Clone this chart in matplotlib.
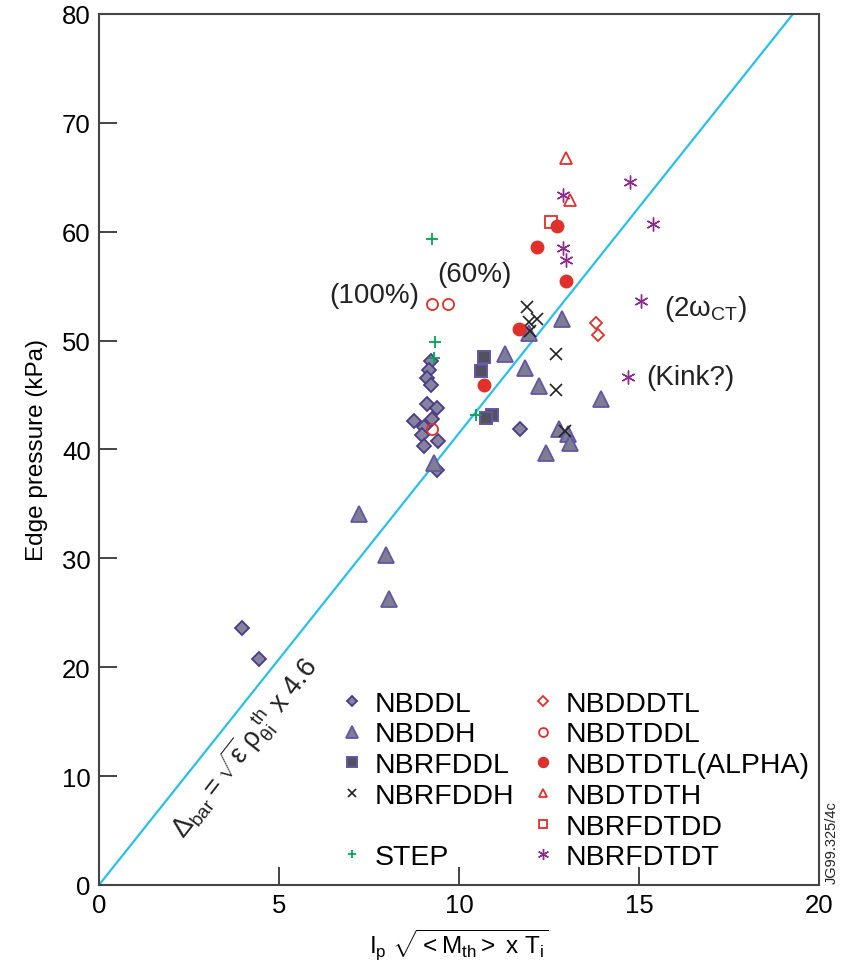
import matplotlib
matplotlib.use("Agg")
import matplotlib.pyplot as plt

plt.rcParams['font.family'] = ['Liberation Sans', 'DejaVu Sans']
plt.rcParams['mathtext.fontset'] = 'custom'
plt.rcParams['mathtext.rm'] = 'Liberation Sans'
plt.rcParams['mathtext.it'] = 'Liberation Sans'
plt.rcParams['mathtext.bf'] = 'Liberation Sans:bold'

# Dados (x, y)
nbddl_x = [3.97, 4.44, 9.21, 9.17, 9.11, 9.21, 9.11, 9.40, 8.76, 9.26, 9.03, 8.98, 9.43, 9.04, 9.39, 11.69]
nbddl_y = [23.6, 20.8, 48.1, 47.3, 46.6, 45.9, 44.2, 43.8, 42.6, 42.8, 42.1, 41.3, 40.8, 40.3, 38.1, 41.9]

nbddh_x = [7.22, 7.98, 8.06, 9.31, 11.28, 12.86, 11.82, 12.22, 13.94, 12.78, 13.03, 13.08, 12.41, 11.94]
nbddh_y = [34.1, 30.3, 26.3, 38.8, 48.8, 52.0, 47.5, 45.8, 44.6, 41.9, 41.4, 40.6, 39.7, 50.7]

nbrfddl_x = [10.69, 10.60, 10.93, 10.74]
nbrfddl_y = [48.5, 47.2, 43.2, 42.9]

nbrfddh_x = [11.90, 11.94, 12.18, 11.96, 12.69, 12.69, 12.94]
nbrfddh_y = [53.1, 51.7, 52.0, 50.9, 48.8, 45.5, 41.7]

step_x = [9.24, 9.34, 9.31, 10.48]
step_y = [59.3, 49.9, 48.4, 43.2]

nbdddtl_x = [13.80, 13.85]
nbdddtl_y = [51.6, 50.5]

nbdtddl_x = [9.24, 9.69, 9.25]
nbdtddl_y = [53.4, 53.4, 41.9]

nbdtdtl_x = [12.71, 12.18, 12.98, 11.67, 10.69]
nbdtdtl_y = [60.5, 58.6, 55.5, 51.1, 45.9]

nbdtdth_x = [12.98, 13.07]
nbdtdth_y = [66.8, 62.9]

nbrfdtdd_x = [12.56]
nbrfdtdd_y = [60.9]

nbrfdtdt_x = [12.90, 12.90, 12.98, 14.75, 15.38, 15.06, 14.70]
nbrfdtdt_y = [63.4, 58.5, 57.4, 64.6, 60.7, 53.6, 46.7]

# reta Delta_bar
slope = 4.15
line_x = [0, 20]

purple = '#4b3a8c'
purple2 = '#6555a5'
red = '#e0302a'

fig = plt.figure(figsize=(8.42, 9.78), dpi=100)
ax = fig.add_axes([0.1176, 0.0941, 0.8551, 0.8906])

ax.plot(line_x, [slope * v for v in line_x], color='#2bbfee', lw=1.6, zorder=1)

ax.plot(nbddl_x, nbddl_y, 'D', ms=7, mfc='#84849a', mec=purple, mew=1.3, ls='none', label='NBDDL')
ax.plot(nbddh_x, nbddh_y, '^', ms=11, mfc='#7e7e92', mec=purple2, mew=1.3, ls='none', label='NBDDH')
ax.plot(nbrfddl_x, nbrfddl_y, 's', ms=9, mfc='#52525c', mec=purple2, mew=1.4, ls='none', label='NBRFDDL')
ax.plot(nbrfddh_x, nbrfddh_y, 'x', ms=8, color='#222222', mew=1.2, ls='none', label='NBRFDDH')
ax.plot([], [], ls='none', marker='none', label=' ')
ax.plot(step_x, step_y, '+', ms=8, color='#00a651', mew=1.3, ls='none', label='STEP')
ax.plot(nbdddtl_x, nbdddtl_y, 'D', ms=6, mfc='none', mec=red, mew=1.3, ls='none', label='NBDDDTL')
ax.plot(nbdtddl_x, nbdtddl_y, 'o', ms=8, mfc='none', mec=red, mew=1.3, ls='none', label='NBDTDDL')
ax.plot(nbdtdtl_x, nbdtdtl_y, 'o', ms=9, color=red, ls='none', label='NBDTDTL(ALPHA)')
ax.plot(nbdtdth_x, nbdtdth_y, '^', ms=8, mfc='none', mec=red, mew=1.3, ls='none', label='NBDTDTH')
ax.plot(nbrfdtdd_x, nbrfdtdd_y, 's', ms=8, mfc='none', mec=red, mew=1.3, ls='none', label='NBRFDTDD')
ax.plot(nbrfdtdt_x, nbrfdtdt_y, marker=(6, 2, 0), ms=10, color='#8e2a8e', mew=1.0, ls='none', label='NBRFDTDT')

ax.set_xlim(0, 20)
ax.set_ylim(0, 80)
ax.set_xticks([0, 5, 10, 15, 20])
ax.set_yticks(range(0, 81, 10))
ax.tick_params(direction='in', length=13, width=1.4, labelsize=18.5, color='#444444',
               top=False, right=False, pad=6)
for s in ax.spines.values():
    s.set_linewidth(1.5)
    s.set_color('#444444')

ax.set_xlabel(r'$\mathrm{I_p}\ \sqrt{\mathrm{<M_{th}>\ x\ T_i}}$', fontsize=17.5, labelpad=6)
ax.set_ylabel('Edge pressure (kPa)', fontsize=17.5, labelpad=10)

# anotacoes
ax.text(7.64, 54.2, '(100%)', fontsize=20, ha='center', va='center', color='#222222')
ax.text(10.42, 56.1, '(60%)', fontsize=20, ha='center', va='center', color='#222222')
ax.text(15.7, 53.0, r'(2$\mathrm{\omega_{CT}}$)', fontsize=20, ha='left', va='center', color='#222222')
ax.text(15.2, 46.7, '(Kink?)', fontsize=20, ha='left', va='center', color='#222222')
ax.text(4.05, 12.6, r'$\Delta_{\mathrm{bar}} = \sqrt{\varepsilon}\,\rho_{\theta i}^{\ \mathrm{th}}$ x 4.6',
        fontsize=19.5, rotation=52, ha='center', va='center', color='#222222',
        rotation_mode='anchor')

leg = ax.legend(ncol=2, loc='lower right', bbox_to_anchor=(1.015, -0.006), frameon=False,
                fontsize=20.5, handlelength=0.9, handletextpad=0.35, columnspacing=0.55,
                labelspacing=0.165, borderaxespad=0.3, markerscale=0.8)

fig.text(0.988, 0.138, 'JG99.325/4c', fontsize=10.5, rotation=90, ha='center', va='center',
         color='#222222')

fig.savefig('out.png', dpi=100)
